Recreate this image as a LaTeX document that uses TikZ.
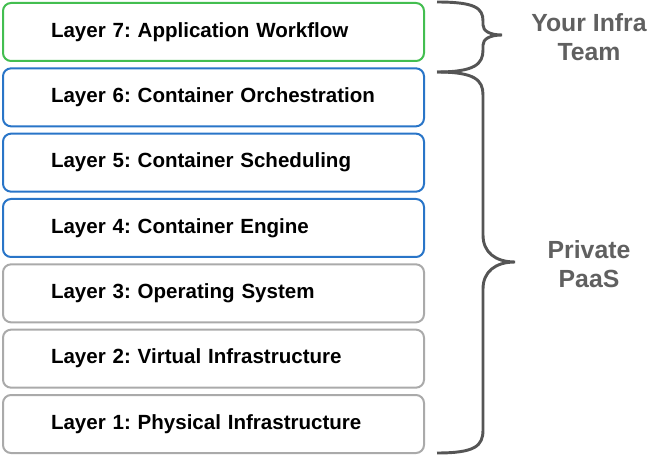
\documentclass[tikz,border=0pt]{standalone}
\usepackage{fontspec}
\setmainfont{Liberation Sans}
\frenchspacing
\usepackage{tikz}
\usetikzlibrary{positioning}

\definecolor{appgreen}{RGB}{67,190,80}
\definecolor{ctblue}{RGB}{41,117,200}
\definecolor{infgray}{RGB}{170,170,170}
\definecolor{bracegray}{RGB}{85,85,85}
\definecolor{sidegray}{RGB}{96,96,96}

\tikzset{
  layer/.style={draw, line width=1.5pt, rounded corners=6pt,
    minimum width=315.75pt, minimum height=43.5pt, inner xsep=36pt,
    text width=243.75pt, align=left, font=\bfseries\fontsize{15.4}{18}\selectfont},
  bracket/.style={draw=bracegray, line width=2.2pt},
  side/.style={text=sidegray, align=center, font=\bfseries\fontsize{18.6}{22}\selectfont}
}

\begin{document}
\begin{tikzpicture}[x=0.75pt,y=-0.75pt, node distance=4pt]
    \useasboundingbox (0,0) rectangle (650,456);
    \node[layer, draw=appgreen] (l7) at (213.5,32) {Layer 7: Application Workflow};
    \node[layer, draw=ctblue, below=of l7] (l6) {Layer 6: Container Orchestration};
    \node[layer, draw=ctblue, below=of l6] (l5) {Layer 5: Container Scheduling};
    \node[layer, draw=ctblue, below=of l5] (l4) {Layer 4: Container Engine};
    \node[layer, draw=infgray, below=of l4] (l3) {Layer 3: Operating System};
    \node[layer, draw=infgray, below=of l3] (l2) {Layer 2: Virtual Infrastructure};
    \node[layer, draw=infgray, below=of l2] (l1) {Layer 1: Physical Infrastructure};
    \draw[bracket] (437,2) .. controls (475,2) and (483,8) .. (483,21) -- (483,25)
      .. controls (483,31) and (490,35) .. (502,35) .. controls (490,35) and (483,39) .. (483,45)
      -- (483,50) .. controls (483,64) and (475,72) .. (437,72);
    \draw[bracket] (437,72) .. controls (475,72) and (483,80) .. (483,95) -- (483,235)
      .. controls (483,252) and (495,262) .. (515,262) .. controls (495,262) and (483,272) .. (483,289)
      -- (483,430) .. controls (483,446) and (475,453) .. (437,453);
    \node[side] (infra) at (589,37) {Your Infra\\Team};
    \node[side] (paas) at (589,264) {Private\\PaaS};
  \end{tikzpicture}
\end{document}
